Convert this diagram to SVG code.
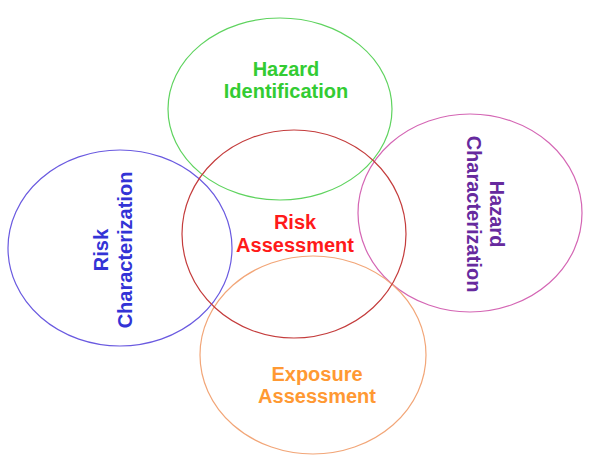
<svg xmlns="http://www.w3.org/2000/svg" width="596" height="456" viewBox="0 0 596 456">
<style>
  ellipse { fill: none; stroke-width: 1.2; }
  text { font-family: "Liberation Sans", Arial, sans-serif; font-weight: bold; font-size: 20px; text-anchor: middle; }
</style>
<rect width="596" height="456" fill="#ffffff"/>
<g id="hazard-identification">
  <ellipse cx="280" cy="109" rx="112" ry="91" stroke="#5fd35f"/>
  <text fill="#33cc33"><tspan x="286" y="76">Hazard</tspan><tspan x="286" y="98">Identification</tspan></text>
</g>
<g id="risk-characterization">
  <ellipse cx="120" cy="248" rx="112" ry="98" stroke="#6a5ae0"/>
  <text fill="#3333d6" transform="translate(108,250) rotate(-90)"><tspan x="0" y="0">Risk</tspan><tspan x="0" y="24">Characterization</tspan></text>
</g>
<g id="hazard-characterization">
  <ellipse cx="470" cy="213" rx="112" ry="99" stroke="#d466b4"/>
  <text fill="#662a9e" transform="translate(490,214) rotate(90)"><tspan x="0" y="0">Hazard</tspan><tspan x="0" y="23">Characterization</tspan></text>
</g>
<g id="exposure-assessment">
  <ellipse cx="313" cy="355" rx="113" ry="99" stroke="#f2a678"/>
  <text fill="#ff9933"><tspan x="317" y="381">Exposure</tspan><tspan x="317" y="403">Assessment</tspan></text>
</g>
<g id="risk-assessment">
  <ellipse cx="294" cy="234" rx="112" ry="104" stroke="#c43c3c"/>
  <text fill="#ff1a1a"><tspan x="295" y="229">Risk</tspan><tspan x="295" y="252">Assessment</tspan></text>
</g>
<g id="connectors"></g>
</svg>
